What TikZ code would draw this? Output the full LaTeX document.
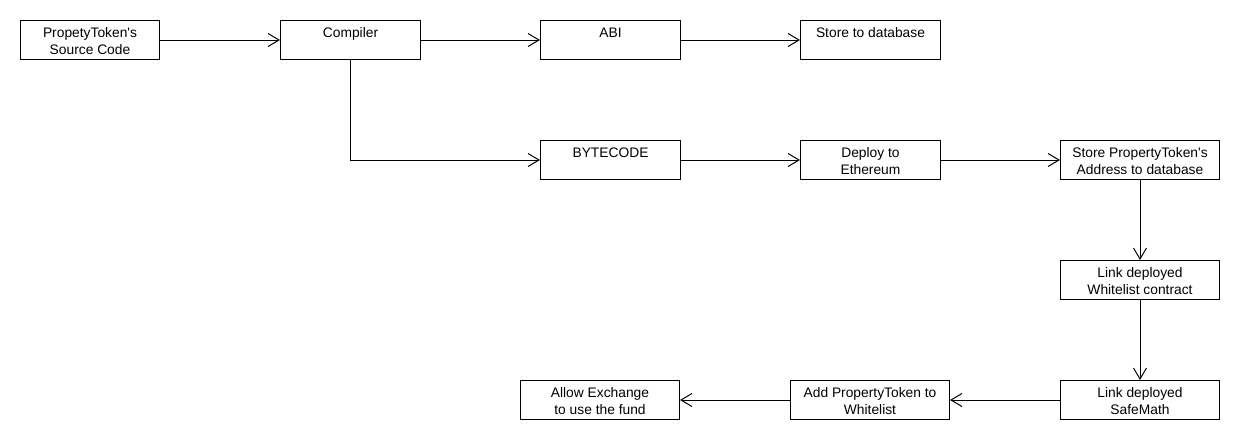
\documentclass[tikz,border=0pt]{standalone}
\usepackage{fontspec}
\setmainfont{Liberation Sans}
\usetikzlibrary{arrows.meta}
\newcommand{\apos}{\textquotesingle}
\newcommand{\tstrut}{\rule{0pt}{16.5pt}}
\begin{document}
\begin{tikzpicture}[x=1pt,y=-1pt,
  box/.style={draw,line width=1pt,minimum width=#1,minimum height=39pt,inner sep=0pt,align=center,font=\fontsize{13.8}{16.5}\selectfont,anchor=north west},
  box/.default=140pt,
  flow/.style={draw,line width=1pt,-{Straight Barb[length=11pt,width=13pt,line width=1pt]}}]
\useasboundingbox (0,0) rectangle (1240,440);
\node[box=139pt] (src) at (20,20) {\tstrut PropetyToken\apos s\\Source Code\strut};
\node[box=140pt] (comp) at (280,20) {\tstrut Compiler\\\strut};
\node[box=140pt] (abi) at (540,20) {\tstrut ABI\\\strut};
\node[box=140pt] (store) at (800,20) {\tstrut Store to database\\\strut};
\node[box=140pt] (byte) at (540,140) {\tstrut BYTECODE\\\strut};
\node[box=140pt] (deploy) at (800,140) {\tstrut Deploy to\\Ethereum\strut};
\node[box=159pt] (addr) at (1060,140) {\tstrut Store PropertyToken\apos s\\Address to database\strut};
\node[box=159pt] (white) at (1060,260) {\tstrut Link deployed\\Whitelist contract\strut};
\node[box=159pt] (safe) at (1060,380) {\tstrut Link deployed\\SafeMath\strut};
\node[box=159pt] (add) at (790,380) {\tstrut Add PropertyToken to\\Whitelist\strut};
\node[box=159pt] (allow) at (520,380) {\tstrut Allow Exchange\\to use the fund\strut};
\draw[flow] (src) -- (comp);
\draw[flow] (comp) -- (abi);
\draw[flow] (abi) -- (store);
\draw[flow] (comp.south -| 350,0) |- (byte.west);
\draw[flow] (byte) -- (deploy);
\draw[flow] (deploy) -- (addr);
\draw[flow] (addr) -- (white);
\draw[flow] (white) -- (safe);
\draw[flow] (safe) -- (add);
\draw[flow] (add) -- (allow);
\end{tikzpicture}
\end{document}
